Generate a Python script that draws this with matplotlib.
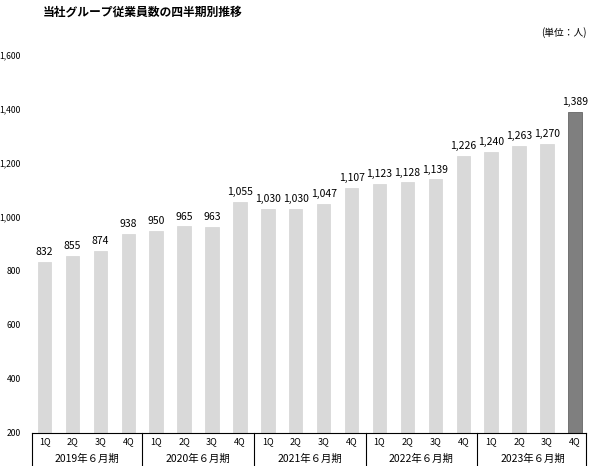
import matplotlib
matplotlib.use("Agg")
import matplotlib.pyplot as plt
from matplotlib.transforms import blended_transform_factory

plt.rcParams['font.family'] = ['Noto Sans CJK JP', 'DejaVu Sans']

quarters = ["1Q", "2Q", "3Q", "4Q"] * 5
years = ["2019年６月期", "2020年６月期", "2021年６月期", "2022年６月期", "2023年６月期"]
values = [832, 855, 874, 938, 950, 965, 963, 1055, 1030, 1030, 1047, 1107,
          1123, 1128, 1139, 1226, 1240, 1263, 1270, 1389]
yticks = [200, 400, 600, 800, 1000, 1200, 1400, 1600]

W, H = 589, 466
fig = plt.figure(figsize=(W / 100, H / 100), dpi=100)
ax = fig.add_axes([32 / W, (H - 433) / H, (586 - 32) / W, (433 - 55) / H])

x = list(range(len(values)))
colors = ["#d9d9d9"] * (len(values) - 1) + ["#7f7f7f"]
edges = ["#d9d9d9"] * (len(values) - 1) + ["#666666"]
ax.bar(x, [v - 200 for v in values], bottom=200, width=0.48, color=colors,
       edgecolor=edges, linewidth=0.6)
for xi, v in zip(x, values):
    ax.text(xi, v + 18, f"{v:,}", ha="center", va="bottom", fontsize=7.5)

ax.set_xlim(-0.45, 19.4)
ax.set_ylim(200, 1600)
ax.set_yticks(yticks)
ax.set_yticklabels([f"{t:,}" for t in yticks], fontsize=6.2)
ax.tick_params(axis="y", length=0, pad=8)
ax.set_xticks([])
for s in ax.spines.values():
    s.set_visible(False)

# category table below the axes
tr = blended_transform_factory(ax.transData, ax.transAxes)
row_h = 17 / (433 - 55)
ax.plot([-0.45, 19.4], [0, 0], transform=tr, color="black", lw=0.8, clip_on=False)
ax.plot([-0.45, 19.4], [-2 * row_h, -2 * row_h], transform=tr, color="black", lw=0.8, clip_on=False)
for b in [-0.45, 3.5, 7.5, 11.5, 15.5, 19.4]:
    ax.plot([b, b], [0, -2 * row_h], transform=tr, color="black", lw=0.8, clip_on=False)
for xi, q in zip(x, quarters):
    ax.text(xi, -0.5 * row_h, q, transform=tr, ha="center", va="center", fontsize=6.5)
for i, yl in enumerate(years):
    ax.text(4 * i + 1.5, -1.5 * row_h, yl, transform=tr, ha="center", va="center",
            fontsize=7.5)

fig.text(143 / W, 1 - 12 / H, "当社グループ従業員数の四半期別推移", ha="center", va="center",
         fontsize=8.5, fontweight="bold")
fig.text(587 / W, 1 - 33 / H, "(単位：人)", ha="right", va="center", fontsize=7)

fig.savefig("out.png", dpi=100)
